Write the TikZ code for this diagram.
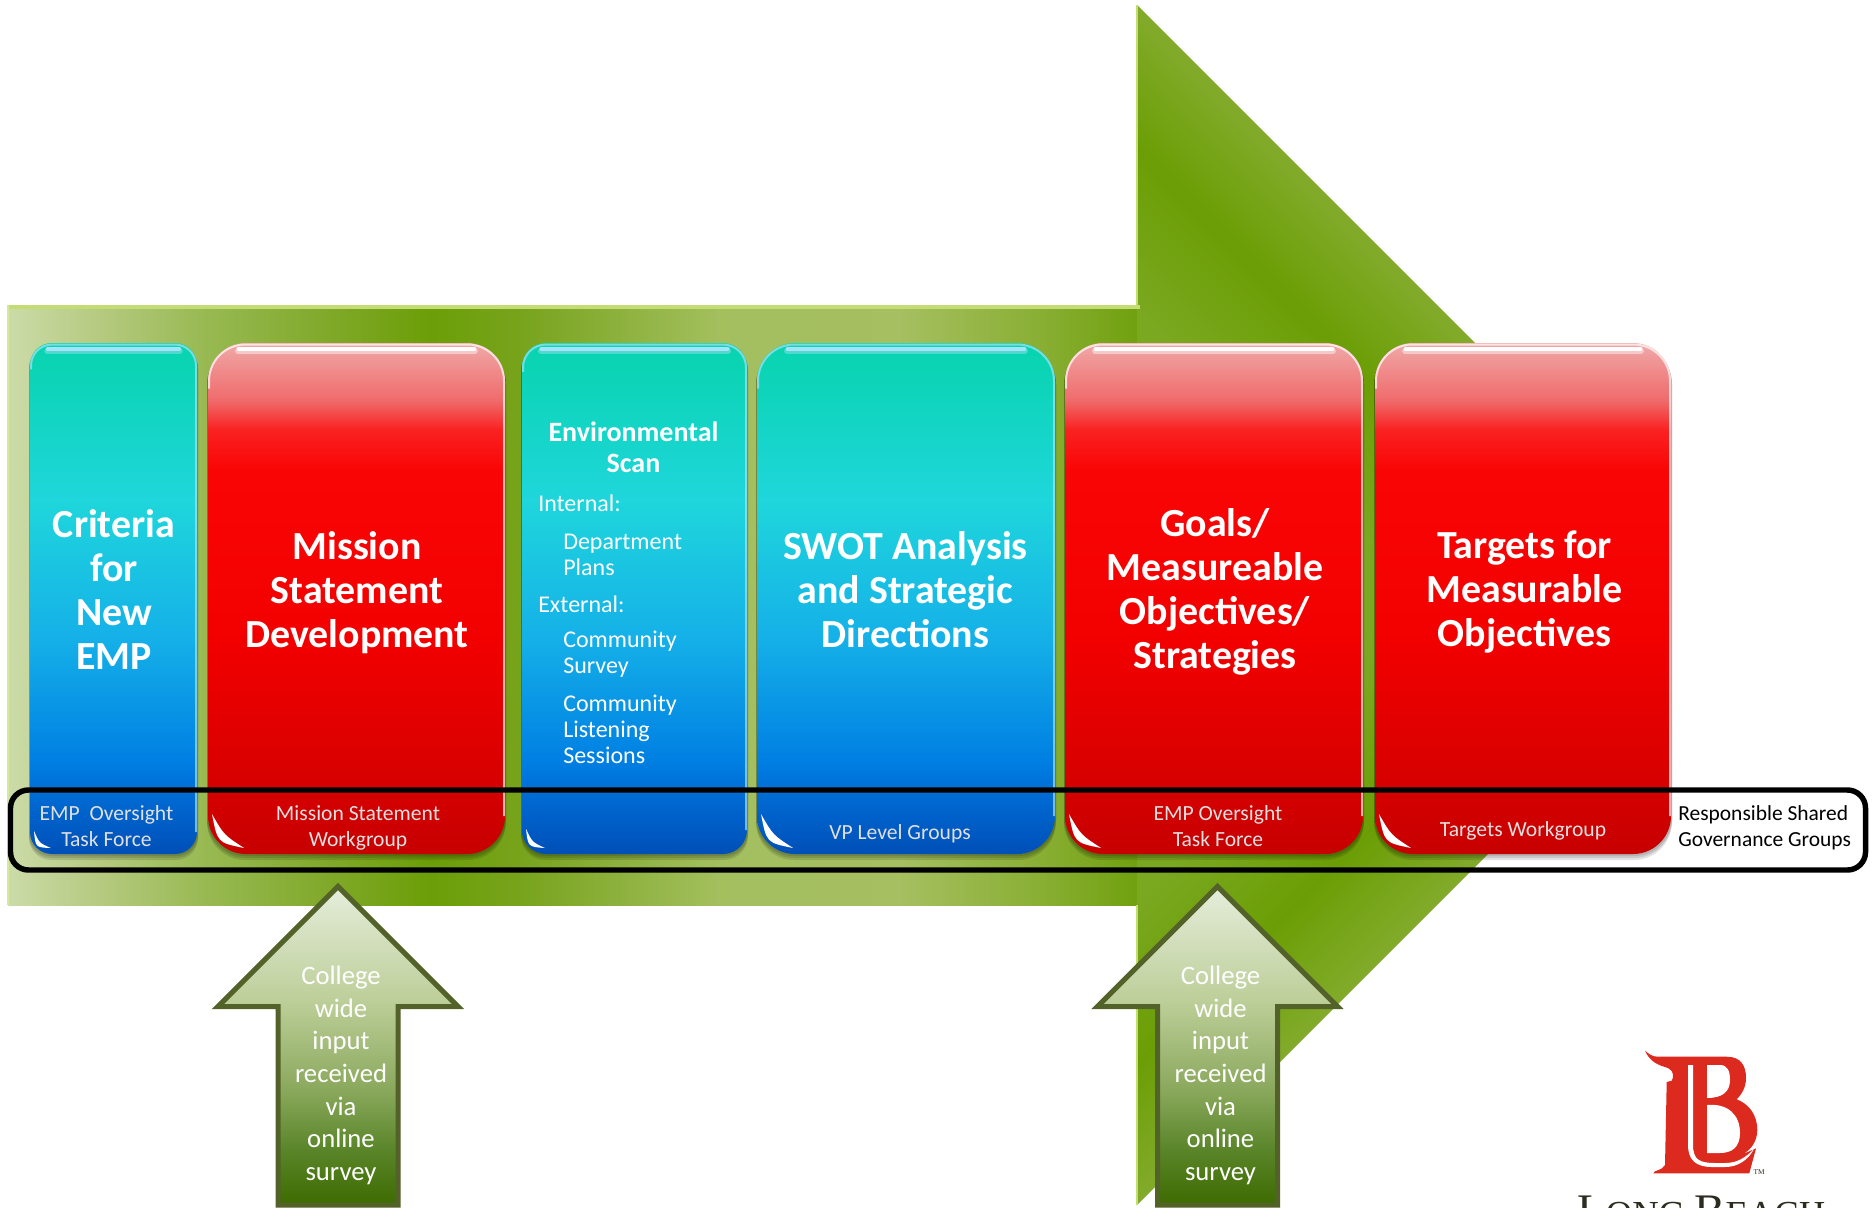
\documentclass[tikz,border=0pt]{standalone}
\usepackage{fontspec}
\setmainfont{Carlito}
\newfontfamily\logofont{Liberation Serif}
\usetikzlibrary{positioning}

\pgfdeclarehorizontalshading{barshade}{100bp}{rgb(0bp)=(0.80,0.86,0.66); rgb(25bp)=(0.80,0.86,0.66); rgb(29.1bp)=(0.71,0.79,0.50); rgb(33.5bp)=(0.60,0.73,0.33); rgb(39.3bp)=(0.50,0.66,0.16); rgb(43.7bp)=(0.42,0.62,0.03); rgb(47.7bp)=(0.47,0.64,0.11); rgb(56.5bp)=(0.64,0.75,0.37); rgb(64.5bp)=(0.65,0.75,0.38); rgb(71.1bp)=(0.53,0.68,0.19); rgb(75bp)=(0.44,0.63,0.06); rgb(100bp)=(0.44,0.63,0.06)}
\pgfdeclarehorizontalshading{headshade}{100bp}{rgb(0bp)=(0.48,0.66,0.13); rgb(33.8bp)=(0.48,0.66,0.13); rgb(43.8bp)=(0.42,0.62,0.02); rgb(52.2bp)=(0.51,0.67,0.17); rgb(100bp)=(0.51,0.67,0.17)}
\pgfdeclareverticalshading{tealshade}{100bp}{rgb(0bp)=(0,0.31,0.72); rgb(25bp)=(0,0.31,0.72); rgb(30.3bp)=(0,0.41,0.82); rgb(34.2bp)=(0,0.50,0.89); rgb(46bp)=(0.08,0.69,0.91); rgb(59.6bp)=(0.12,0.84,0.86); rgb(75bp)=(0.03,0.83,0.68); rgb(100bp)=(0.03,0.83,0.68)}
\pgfdeclareverticalshading{redshade}{100bp}{rgb(0bp)=(0.78,0,0); rgb(25bp)=(0.78,0,0); rgb(34.2bp)=(0.86,0,0); rgb(46bp)=(0.95,0,0); rgb(62.6bp)=(0.98,0.02,0.02); rgb(66.5bp)=(0.98,0.13,0.13); rgb(69.4bp)=(0.94,0.42,0.42); rgb(75bp)=(0.94,0.66,0.66); rgb(100bp)=(0.94,0.66,0.66)}
\pgfdeclareverticalshading{inputshade}{100bp}{rgb(0bp)=(0.24,0.42,0); rgb(25bp)=(0.24,0.42,0); rgb(33.6bp)=(0.35,0.52,0.16); rgb(43bp)=(0.54,0.66,0.36); rgb(57bp)=(0.74,0.81,0.60); rgb(75bp)=(0.90,0.93,0.86); rgb(100bp)=(0.90,0.93,0.86)}

\definecolor{inputedge}{HTML}{526228}
\definecolor{logored}{HTML}{DC2A1E}
\definecolor{logoink}{HTML}{2C2C20}
\definecolor{rimgreen}{HTML}{C4DC74}

\tikzset{
	stepbox/.style={inner sep=0pt,outer sep=0pt,shade,minimum height=383.25pt},
	bigtitle/.style={text=white,align=center,font=\fontsize{29.9}{33}\selectfont\bfseries},
	scanitem/.style={text=white,anchor=west,align=left,inner sep=0pt,font=\fontsize{18}{19.6}\selectfont},
	grouplabel/.style={text=white!88!black,align=center,inner sep=0pt,font=\fontsize{16.2}{19.6}\selectfont},
	inputtext/.style={text=white,align=center,inner sep=0pt,font=\fontsize{20}{24.5}\selectfont},
}

\begin{document}
\begin{tikzpicture}[
		x={(0.75pt,0pt)},
		y={(0pt,-0.75pt)},
	]
	\path[use as bounding box,clip] (0,0) rectangle (1873,1207);

	% big arrow
	\shade[shading=barshade] (8,305) rectangle (1137,905);
	\begin{scope}
		\clip (1137,5) -- (1660,528) -- (1660,605) -- (1137,605) -- cycle;
		\shade[shading=headshade,shading angle=45] (1100,5) rectangle (1700,605);
	\end{scope}
	\begin{scope}
		\clip (1137,1205) -- (1660,682) -- (1660,605) -- (1137,605) -- cycle;
		\shade[shading=headshade,shading angle=-45] (1100,605) rectangle (1700,1205);
	\end{scope}
	\draw[rimgreen,line width=3pt] (8,307) -- (1140,307);
	\draw[rimgreen!70!white,line width=1pt] (8,305) -- (8,905);
	\draw[rimgreen,line width=1pt] (1137,5) -- (1137,305);
	\draw[rimgreen,line width=1pt] (1137,905) -- (1137,1205);

	% step boxes
	\foreach \nm/\xa/\xb/\rad/\shd/\shn in {
		criteria/30/197/22/tealshade/cyan!35!white,
		mission/208/505/38/redshade/white,
		scan/522/747/24/tealshade/cyan!35!white,
		swot/757/1055/38/tealshade/cyan!35!white,
		goals/1065/1363/38/redshade/white,
		targets/1375/1671/38/redshade/white}{
		\foreach \sft in {2,4,6}{
			\fill[black,opacity=0.11,rounded corners=\rad*0.75pt] ({\xa-1},346) rectangle ({\xb+1},{854+\sft});
		}
		\node[stepbox,shading=\shd,minimum width={(\xb-\xa)*0.75pt},rounded corners=\rad*0.75pt] (\nm) at ({(\xa+\xb)/2},598.5) {};
		\draw[\shn,opacity=0.45,line width=5pt,line cap=round] ({\xa+0.8*\rad},351) -- ({\xb-0.8*\rad},351);
		\draw[\shn,line width=2.6pt,line cap=round] ({\xa+0.8*\rad},349) -- ({\xb-0.8*\rad},349);
		\draw[\shn,opacity=0.7,line width=1.5pt,rounded corners=\rad*0.72pt] ({\xa+1},{343+1.2*\rad}) |- ({(\xa+\xb)/2},344.5) -| ({\xb-1},{854-\rad});
		\fill[white] ({\xa+4},{854-1.05*\rad}) .. controls ({\xa+0.25*\rad},{854-0.3*\rad}) .. ({\xa+0.95*\rad},{854-6}) .. controls ({\xa+0.42*\rad},{854-0.5*\rad}) .. ({\xa+4},{854-1.05*\rad}) -- cycle;
	}

	% responsible groups frame
	\node[draw=black,line width=4.1pt,rounded corners=13.5pt,inner sep=0pt,minimum width=1391.25pt,minimum height=60pt] (frame) at (938,830) {};

	% titles
	\node[bigtitle] (criteriatitle) at (114,589.5) {Criteria\\for\\New\\EMP};
	\node[bigtitle] (missiontitle) at (357,592.5) {Mission\\Statement\\Development};
	\node[bigtitle] (swottitle) at (905.5,590) {SWOT Analysis\\and Strategic\\Directions};
	\node[bigtitle] (goalstitle) at (1215,592) {Goals/\\Measureable\\Objectives/\\Strategies};
	\node[bigtitle] (targetstitle) at (1524.5,592.5) {Targets for\\Measurable\\Objectives};

	% environmental scan text
	\node[text=white,align=center,font=\fontsize{21}{23.2}\selectfont\bfseries] (scantitle) at (633.5,447.5) {Environmental\\Scan};
	\node[scanitem] (scanint) at (538,503) {Internal:};
	\node[scanitem] (scandept) at (563,554.5) {Department\\Plans};
	\node[scanitem] (scanext) at (538,604) {External:};
	\node[scanitem] (scansurvey) at (563,654) {Community\\Survey};
	\node[scanitem] (scanlisten) at (563,729) {Community\\Listening\\Sessions};

	% group labels
	\node[grouplabel] (criterialabel) at (106.5,826) {EMP\ \ Oversight\\Task Force};
	\node[grouplabel] (missionlabel) at (358,827.5) {Mission Statement\\Workgroup};
	\node[grouplabel] (swotlabel) at (900,834) {VP Level Groups};
	\node[grouplabel] (goalslabel) at (1218,826) {EMP Oversight\\Task Force};
	\node[grouplabel] (targetslabel) at (1523,831) {Targets Workgroup};
	\node[grouplabel,text=black,align=left,anchor=west,font=\fontsize{16.1}{19.6}\selectfont] (framelabel) at (1678,828) {Responsible Shared\\Governance Groups};

	% input arrows
	\foreach \nm/\xc in {inputa/338,inputb/1217.5}{
		\draw[shading=inputshade,shade,draw=inputedge,line width=3.75pt] (\xc,886.5) -- ({\xc+120},1006.5) -- ({\xc+60},1006.5) -- ({\xc+60},1205) -- ({\xc-60},1205) -- ({\xc-60},1006.5) -- ({\xc-120},1006.5) -- cycle;
		\node[inputtext] (\nm) at ({\xc+3},1075.5) {College\\wide\\input\\received\\via\\online\\survey};
	}

	% logo
	\fill[logored] (1645,1050.7) .. controls (1649,1054) and (1652,1056.7) .. (1658,1056.7) -- (1726.7,1056.7) .. controls (1741,1056.7) and (1746,1066) .. (1746,1078) .. controls (1746,1088) and (1741,1095) .. (1736.7,1099.3) .. controls (1749,1104) and (1757.3,1115) .. (1757.3,1130) .. controls (1757.3,1142) and (1750,1151) .. (1741,1155) -- (1756,1148.3) -- (1749.3,1173.3) -- (1653.3,1173.3) .. controls (1653.3,1170) and (1662,1171) .. (1665,1165) -- (1666.7,1082) -- (1671.7,1080.7) .. controls (1674,1077) and (1674,1071) .. (1668,1068) .. controls (1658,1065) and (1650,1062) .. (1645,1050.7) -- cycle;
	\fill[white] (1688,1065) -- (1693,1065) -- (1693,1145) .. controls (1693,1160) and (1700,1163) .. (1715,1163) -- (1725,1163) .. controls (1738,1163) and (1746,1157) .. (1754,1149) .. controls (1748,1160) and (1738,1167) .. (1725,1167) -- (1712,1167) .. controls (1696,1167) and (1688,1160) .. (1688,1145) -- cycle;
	\fill[white] (1707,1065) -- (1720,1065) .. controls (1728,1065) and (1730,1072) .. (1730,1080) .. controls (1730,1092) and (1722,1098) .. (1707,1098) -- cycle;
	\fill[white] (1707,1105) .. controls (1728,1103) and (1740,1115) .. (1740,1133) .. controls (1740,1147) and (1732,1153) .. (1720,1153) -- (1707,1153) -- cycle;
	\node[inner sep=0pt,text=logoink,font=\logofont\fontsize{5.5}{6}\selectfont] (logotm) at (1759,1172) {TM};
	\node[anchor=base west,inner sep=0pt,text=logoink,font=\logofont] (logoname) at (1577,1226) {\fontsize{35}{37}\selectfont L\fontsize{27.5}{30}\selectfont ONG \fontsize{35}{37}\selectfont B\fontsize{27.5}{30}\selectfont EACH};
\end{tikzpicture}
\end{document}
